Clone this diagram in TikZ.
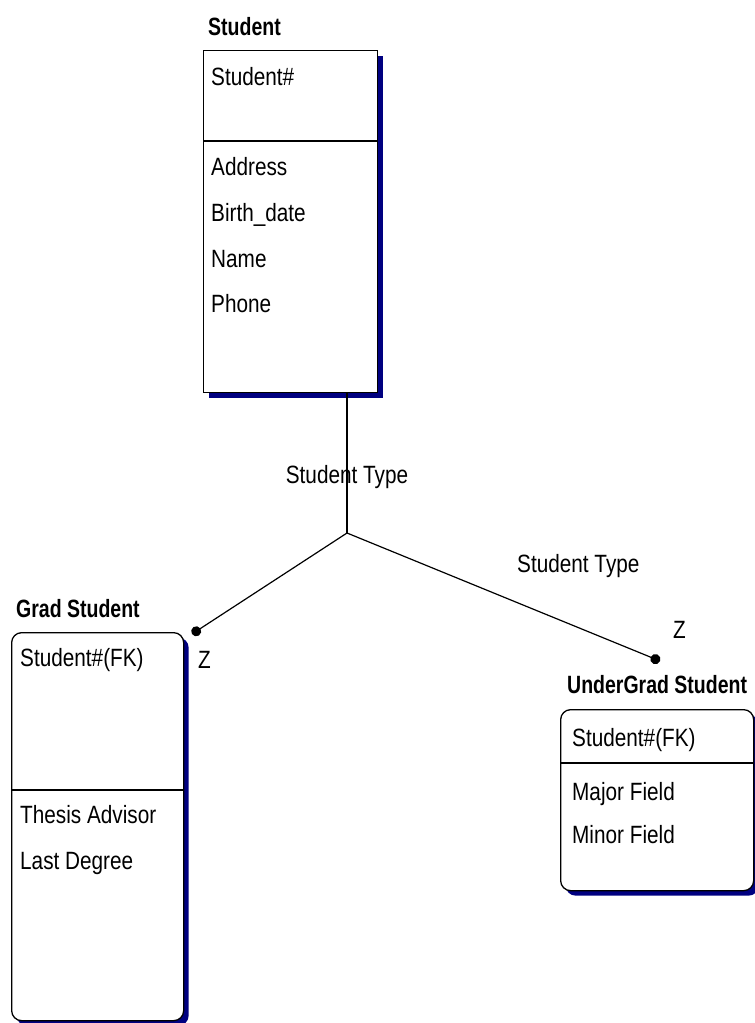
\documentclass[tikz,border=0pt]{standalone}
\usepackage{fontspec}
\setmainfont{Liberation Sans}[FakeStretch=0.83, BoldFeatures={FakeStretch=0.78}]
\usepackage{xcolor}
\usetikzlibrary{arrows.meta,positioning,shadows}
\definecolor{navy}{RGB}{0,0,128}
\tikzset{
  entity/.style={draw, line width=1.3pt, fill=white, anchor=north west, inner sep=0pt,
    drop shadow={fill=navy, opacity=1, shadow xshift=5pt, shadow yshift=-5pt}},
  subent/.style={entity, rounded corners=10pt},
  divider/.style={line width=1.3pt},
  attr/.style={anchor=base west, inner sep=0pt, font=\fontsize{25}{30}\selectfont},
  etitle/.style={attr, font=\bfseries\fontsize{25}{30}\selectfont},
  link/.style={line width=1.2pt},
  dotlink/.style={link, -{Circle[length=10pt]}},
}

\begin{document}
\begin{tikzpicture}[x=1pt, y=-1pt]
\clip (0,0) rectangle (755,1023);
% supertype
\node[etitle] (stutitle) at (208,35) {Student};
\node[entity, minimum width=174, minimum height=342] (stu) at (203,50) {};
\draw[divider] (stu.west |- 0,141) -- (stu.east |- 0,141);
\node[attr] (stukey) at (211,85) {Student\#};
\node[attr] (addr) at (211,175) {Address};
\node[attr] (bdate) at (211,221) {Birth\_date};
\node[attr] (name) at (211,267) {Name};
\node[attr] (phone) at (211,312) {Phone};

% subtypes
\node[etitle] (gradtitle) at (16,617) {Grad Student};
\node[subent, minimum width=172, minimum height=388] (grad) at (11,632) {};
\draw[divider] (grad.west |- 0,790) -- (grad.east |- 0,790);
\node[attr] (gradkey) at (20,666) {Student\#(FK)};
\node[attr] (advisor) at (20,823) {Thesis Advisor};
\node[attr] (degree) at (20,869) {Last Degree};

\node[etitle] (ugradtitle) at (567,693) {UnderGrad Student};
\node[subent, minimum width=193, minimum height=181] (ugrad) at (560,709) {};
\draw[divider] (ugrad.west |- 0,763) -- (ugrad.east |- 0,763);
\node[attr] (ugradkey) at (572,746) {Student\#(FK)};
\node[attr] (major) at (572,800) {Major Field};
\node[attr] (minor) at (572,843) {Minor Field};

% category
\coordinate (fork) at (347,533);
\coordinate (gradend) at (192,634);
\coordinate (ugradend) at (660,661);
\draw[link] (stu.south -| fork) -- (fork);
\draw[dotlink] (fork) -- (gradend);
\draw[dotlink] (fork) -- (ugradend);
\node[attr, anchor=base] (cat1) at (347,483) {Student Type};
\node[attr] (cat2) at (517,572) {Student Type};
\node[attr] (gradz) at (198,668) {Z};
\node[attr] (ugradz) at (673,638) {Z};
\end{tikzpicture}
\end{document}
